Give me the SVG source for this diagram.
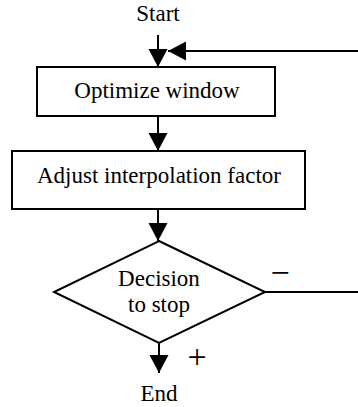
<svg xmlns="http://www.w3.org/2000/svg" width="358" height="407" viewBox="0 0 358 407">
<style>
.box{fill:#fff;stroke:#000;stroke-width:2}
.ln{fill:none;stroke:#000;stroke-width:2}
.t{font-size:23px;fill:#000;text-anchor:middle}
.sym{font-size:34px}
</style>
<defs>
<marker id="ah" markerUnits="userSpaceOnUse" markerWidth="20" markerHeight="20" refX="18" refY="9.5" orient="auto">
<path d="M0,0 L18,9.5 L0,19 z" fill="#000"/>
</marker>
</defs>
<g font-family="Times New Roman, Liberation Serif, Times, serif">
<g id="start"><text class="t" x="158" y="21">Start</text></g>
<g id="optimize"><rect class="box" x="37" y="67" width="238" height="49"/><text class="t" x="157" y="98">Optimize window</text></g>
<g id="adjust"><rect class="box" x="12" y="151" width="293" height="58"/><text class="t" x="159" y="183">Adjust interpolation factor</text></g>
<g id="decision"><polygon class="box" points="159,241 265,292 159,343 54,292"/><text class="t" x="159" y="286">Decision</text><text class="t" x="159" y="312">to stop</text></g>
<g id="end"><text class="t" x="159" y="401">End</text></g>
<g id="connectors">
<line class="ln" x1="158" y1="35" x2="158" y2="67" marker-end="url(#ah)"/>
<line class="ln" x1="358" y1="51" x2="168" y2="51" marker-end="url(#ah)"/>
<line class="ln" x1="158" y1="116" x2="158" y2="151" marker-end="url(#ah)"/>
<line class="ln" x1="158" y1="209" x2="158" y2="241" marker-end="url(#ah)"/>
<line class="ln" x1="159" y1="343" x2="159" y2="373" marker-end="url(#ah)"/>
<line class="ln" x1="265" y1="292" x2="358" y2="292"/>
</g>
<g id="labels"><text class="t sym" x="280" y="284">−</text><text class="t sym" x="197" y="368">+</text></g>
</g>
</svg>
